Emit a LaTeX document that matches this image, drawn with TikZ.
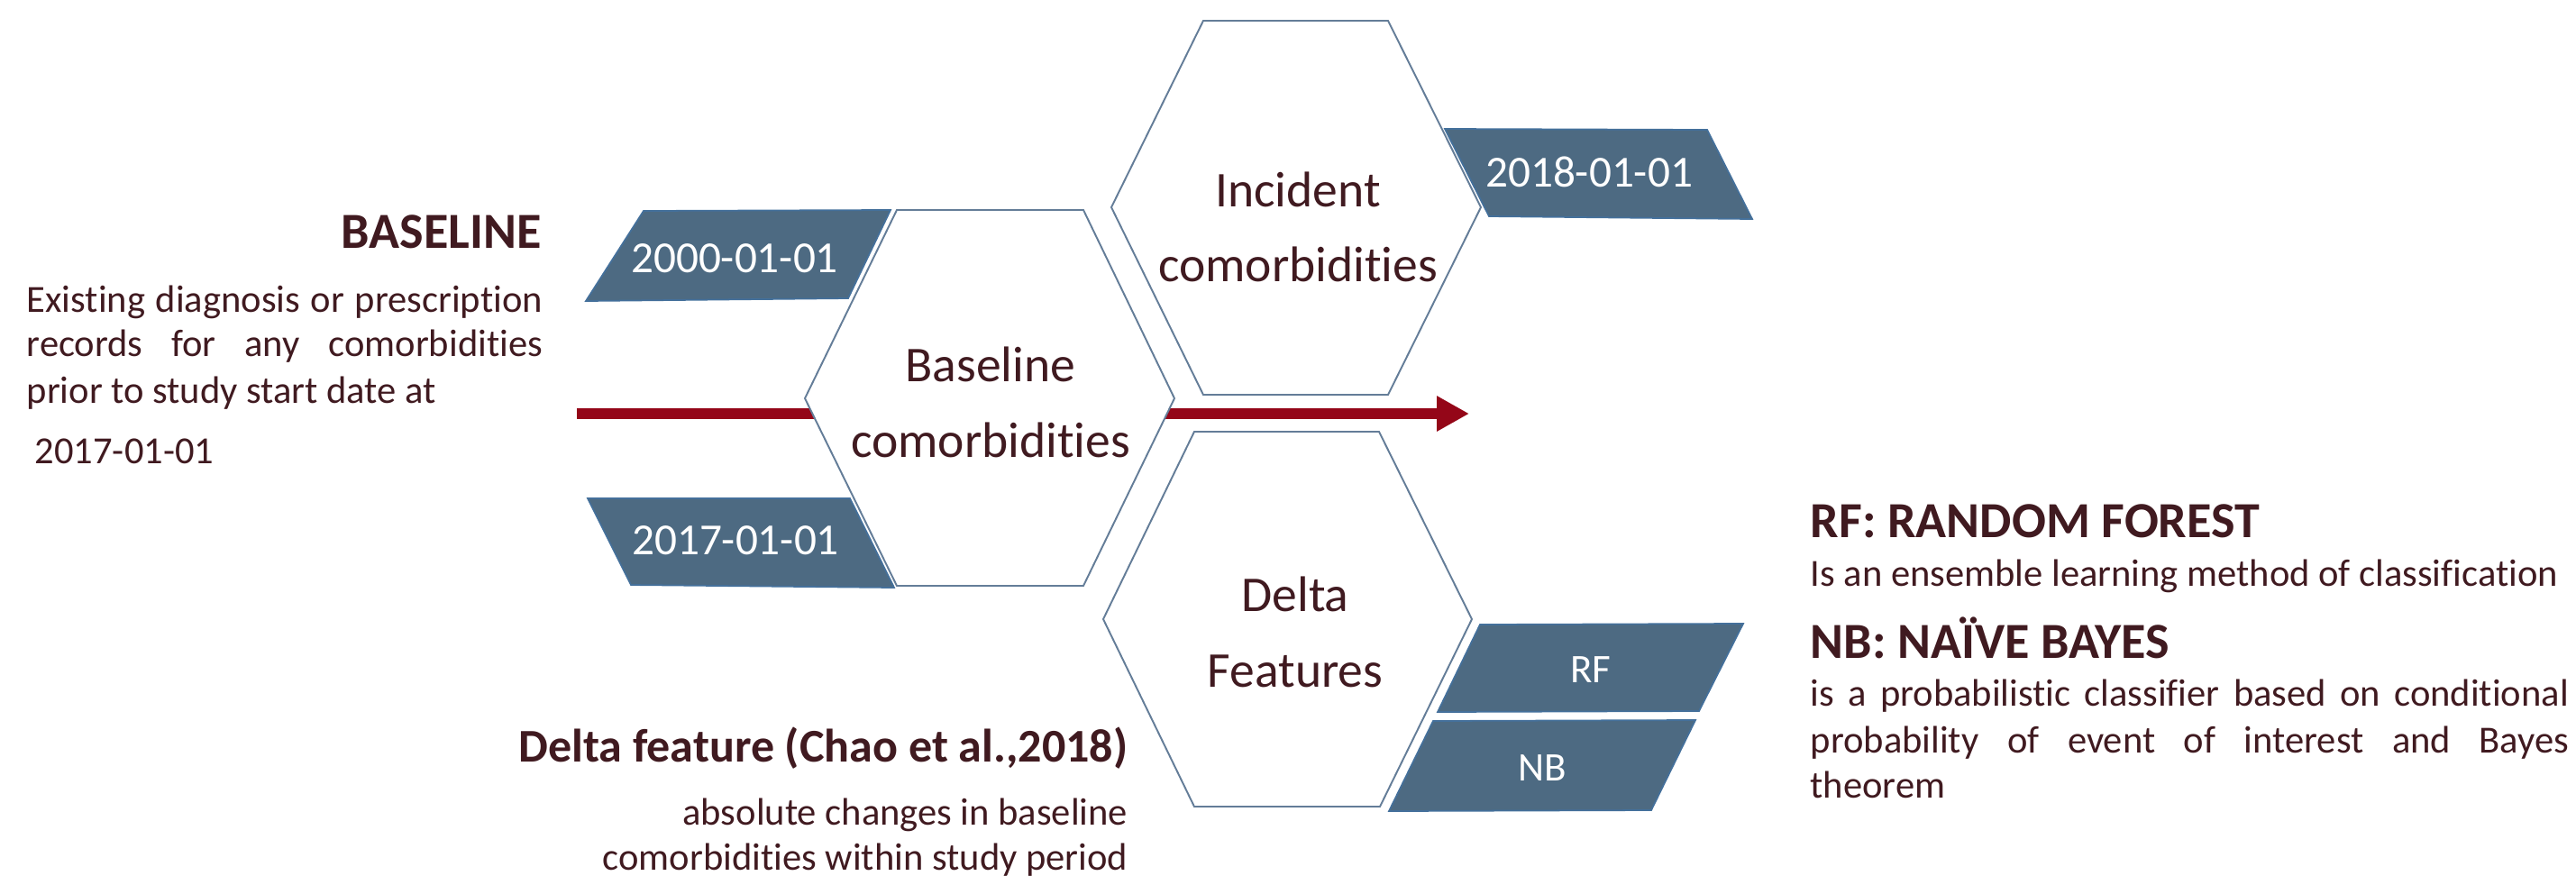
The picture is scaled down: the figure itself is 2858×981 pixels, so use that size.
\documentclass[tikz,border=0pt]{standalone}
\usepackage{fontspec}
\setmainfont{Carlito}[Ligatures={NoCommon}]
\usetikzlibrary{arrows.meta}
\definecolor{ink}{RGB}{64,26,32}
\definecolor{slate}{RGB}{77,106,130}
\definecolor{slateedge}{RGB}{68,112,155}
\definecolor{hexline}{RGB}{100,125,152}
\definecolor{arrowred}{RGB}{148,6,24}
\begin{document}
\begin{tikzpicture}[x=0.01cm,y=-0.01cm,
  txt/.style={inner sep=0pt, text=ink},
  body/.style={txt, font=\fontsize{12.1}{14}\selectfont},
  head/.style={txt, font=\fontsize{15.95}{18}\selectfont\bfseries},
  subhead/.style={txt, font=\fontsize{14.8}{17}\selectfont\bfseries},
  hextext/.style={txt, font=\fontsize{15.8}{19}\selectfont},
  datebox/.style={fill=slate, draw=slateedge, line width=0.5pt},
  datetext/.style={inner sep=0pt, text=white, font=\fontsize{14}{16}\selectfont},
  clstext/.style={inner sep=0pt, text=white, font=\fontsize{12.8}{15}\selectfont},
  hexagon/.style={draw=hexline, fill=white, line width=0.55pt, line join=miter},
  timeline/.style={draw=arrowred, line width=0.125cm, -{Triangle[length=0.36cm,width=0.37cm]}},
]
\useasboundingbox (0,0) rectangle (2858,981);

% study timeline, running behind the baseline hexagon
\coordinate (tstart) at (640,459);
\coordinate (tend) at (1630,459);
\draw[timeline] (tstart) -- (tend);

% hexagons
\draw[hexagon] (893,442) -- (995,233) -- (1202,233) -- (1303,442) -- (1202,650) -- (995,650) -- cycle;
\draw[hexagon] (1233,230) -- (1335,23) -- (1540,23) -- (1643,230) -- (1540,438) -- (1335,438) -- cycle;
\draw[hexagon] (1224,687) -- (1325,479) -- (1530,479) -- (1633,687) -- (1531,895) -- (1325,895) -- cycle;

% hexagon labels
\node[hextext, anchor=base] (bas1) at (1099,423) {Baseline};
\node[hextext, anchor=base] (bas2) at (1099,507) {comorbidities};
\node[hextext, anchor=base] (inc1) at (1440,229) {Incident};
\node[hextext, anchor=base] (inc2) at (1440,312) {comorbidities};
\node[hextext, anchor=base] (del1) at (1437,678) {Delta};
\node[hextext, anchor=base] (del2) at (1437,762) {Features};

% date tags
\draw[datebox] (714,234) -- (988,233) -- (941,331) -- (650,334) -- cycle;
\node[datetext] (d2000) at (815,287) {2000-01-01};
\draw[datebox] (652,553) -- (943,553) -- (992,652) -- (700,649) -- cycle;
\node[datetext] (d2017) at (816,600) {2017-01-01};
\draw[datebox] (1603,143) -- (1894,144) -- (1944,243) -- (1652,240) -- cycle;
\node[datetext] (d2018) at (1763,191) {2018-01-01};

% classifier tags
\draw[datebox] (1642,693) -- (1934,692) -- (1885,789) -- (1595,790) -- cycle;
\node[clstext] (rf) at (1765,743) {RF};
\draw[datebox] (1590,800) -- (1881,799) -- (1832,899) -- (1541,900) -- cycle;
\node[clstext] (nb) at (1711,852) {NB};

% baseline description
\node[head, anchor=base east] (bhead) at (601,275) {BASELINE};
\node[body, anchor=base west] (bl1) at (29,346) {\makebox[5.72cm][s]{Existing diagnosis or prescription}};
\node[body, anchor=base west] (bl2) at (29,395) {\makebox[5.72cm][s]{records for any comorbidities}};
\node[body, anchor=base west] (bl3) at (29,447) {prior to study start date at};
\node[body, anchor=base west] (bl4) at (38,514) {2017-01-01};

% delta feature description
\node[subhead, anchor=base east] (dhead) at (1252,845) {Delta feature (Chao et al.,2018)};
\node[body, anchor=base east] (dl1) at (1252,915) {absolute changes in baseline};
\node[body, anchor=base east] (dl2) at (1252,965) {comorbidities within study period};

% classifier descriptions
\node[head, anchor=base west] (rfhead) at (2008,596) {RF: RANDOM FOREST};
\node[body, anchor=base west] (rfl1) at (2008,650) {Is an ensemble learning method of classification};
\node[head, anchor=base west] (nbhead) at (2008,730) {NB: NAÏVE BAYES};
\node[body, anchor=base west] (nbl1) at (2008,783) {\makebox[8.41cm][s]{is a probabilistic classifier based on conditional}};
\node[body, anchor=base west] (nbl2) at (2008,835) {\makebox[8.41cm][s]{probability of event of interest and Bayes}};
\node[body, anchor=base west] (nbl3) at (2008,885) {theorem};
\end{tikzpicture}
\end{document}
